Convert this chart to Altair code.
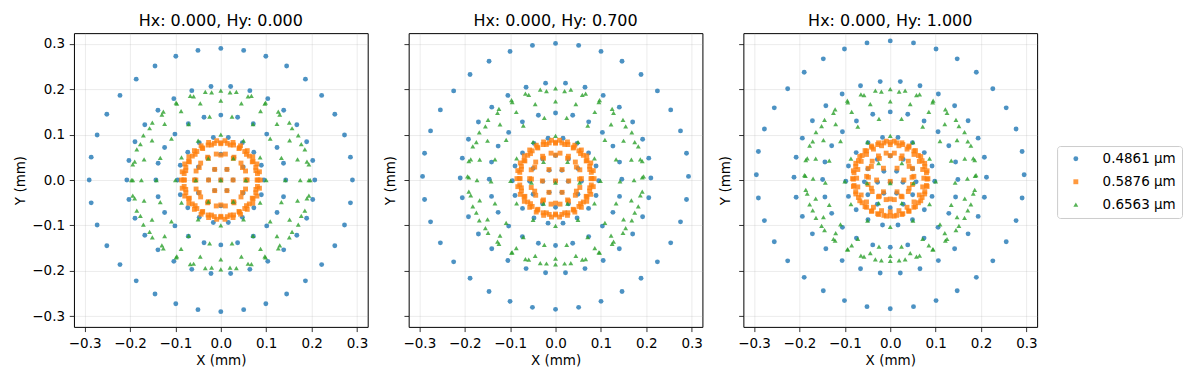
import altair as alt
import numpy as np
import pandas as pd

# ---- labels -------------------------------------------------------------
wavelengths = ["0.4861 µm", "0.5876 µm", "0.6563 µm"]
colors = ["#1f77b4", "#ff7f0e", "#2ca02c"]
shapes = ["circle", "square", "triangle-up"]
marker_sizes = [24, 24, 32]
titles = ["Hx: 0.000, Hy: 0.000", "Hx: 0.000, Hy: 0.700", "Hx: 0.000, Hy: 1.000"]
ticks = [-0.3, -0.2, -0.1, 0.0, 0.1, 0.2, 0.3]

# hexapolar pupil sampling: number of rays on each pupil ring
ring_counts = [6, 12, 18, 24, 30, 36]

# ---- spot ring radii (mm) and ring centre offsets in y (mm)
# field 1 (Hx 0, Hy 0)
f1_blue_r = [0.027, 0.057, 0.095, 0.143, 0.207, 0.290]
f1_blue_dy = [0.0, 0.0, 0.0, 0.0, 0.0, 0.0]
f1_orange_r = [0.027, 0.055, 0.058, 0.080, 0.087, 0.082]
f1_orange_dy = [0.0, 0.0, 0.0, 0.0, 0.0, 0.0]
f1_green_r = [0.055, 0.100, 0.142, 0.175, 0.194, 0.197]
f1_green_dy = [0.0, 0.0, 0.0, 0.0, 0.0, 0.0]
f1_chief_dy = [0.0, 0.0, 0.0]

# field 2 (Hx 0, Hy 0.7)
f2_blue_r = [0.028, 0.057, 0.095, 0.146, 0.210, 0.293]
f2_blue_dy = [-0.003, -0.003, -0.0015, 0.0017, 0.0045, 0.008]
f2_orange_r = [0.029, 0.053, 0.057, 0.078, 0.085, 0.080]
f2_orange_dy = [-0.002, 0.002, 0.003, 0.003, 0.003, 0.003]
f2_green_r = [0.053, 0.099, 0.142, 0.173, 0.191, 0.194]
f2_green_dy = [-0.006, -0.002, -0.003, 0.0, 0.006, 0.008]
f2_chief_dy = [-0.003, -0.002, -0.006]

# field 3 (Hx 0, Hy 1.0)
f3_blue_r = [0.028, 0.057, 0.098, 0.149, 0.212, 0.295]
f3_blue_dy = [-0.005, -0.004, -0.0026, 0.001, 0.006, 0.0115]
f3_orange_r = [0.030, 0.048, 0.052, 0.074, 0.083, 0.081]
f3_orange_dy = [0.0, 0.006, 0.008, 0.004, 0.003, 0.002]
f3_green_r = [0.051, 0.100, 0.143, 0.170, 0.187, 0.189]
f3_green_dy = [-0.007, -0.003, -0.006, 0.003, 0.009, 0.011]
f3_chief_dy = [-0.005, -0.003, -0.007]

fields = [
    ([f1_blue_r, f1_orange_r, f1_green_r], [f1_blue_dy, f1_orange_dy, f1_green_dy], f1_chief_dy),
    ([f2_blue_r, f2_orange_r, f2_green_r], [f2_blue_dy, f2_orange_dy, f2_green_dy], f2_chief_dy),
    ([f3_blue_r, f3_orange_r, f3_green_r], [f3_blue_dy, f3_orange_dy, f3_green_dy], f3_chief_dy),
]

rows = []
for p, (radii, offsets, chief) in enumerate(fields):
    for w, wl in enumerate(wavelengths):
        rows.append({"panel": p, "wl": wl, "x": 0.0, "y": chief[w]})
        for n, r, dy in zip(ring_counts, radii[w], offsets[w]):
            ang = 2 * np.pi * np.arange(n) / n
            for a in ang:
                rows.append({"panel": p, "wl": wl,
                             "x": r * np.cos(a), "y": dy + r * np.sin(a)})
df = pd.DataFrame(rows)

lim = 0.3236
scale = alt.Scale(domain=[-lim, lim], nice=False, zero=False)
legend_kw = dict(title=None, orient="none", legendX=984, legendY=113)


def make_panel(p):
    first = p == 0
    d = df[df.panel == p]
    return (
        alt.Chart(d)
        .mark_point(filled=True, opacity=0.8, strokeWidth=0)
        .encode(
            x=alt.X("x:Q", scale=scale,
                    axis=alt.Axis(values=ticks, format=".1f", title="X (mm)", titlePadding=4)),
            y=alt.Y("y:Q", scale=scale,
                    axis=alt.Axis(values=ticks, format=".1f", title="Y (mm)",
                                  labels=first, titlePadding=4 if first else 6)),
            color=alt.Color("wl:N", scale=alt.Scale(domain=wavelengths, range=colors),
                            legend=alt.Legend(**legend_kw)),
            shape=alt.Shape("wl:N", scale=alt.Scale(domain=wavelengths, range=shapes),
                            legend=alt.Legend(**legend_kw)),
            size=alt.Size("wl:N", scale=alt.Scale(domain=wavelengths, range=marker_sizes),
                          legend=alt.Legend(**legend_kw)),
        )
        .properties(width=294, height=294, title=titles[p])
    )


chart = (
    alt.hconcat(make_panel(0), make_panel(1), make_panel(2))
    .properties(padding={"left": 5, "top": 4, "right": 0, "bottom": 0})
    .configure_view(stroke="black", strokeWidth=1)
    .configure_axis(
        domain=False, tickColor="black", tickSize=4.7, tickWidth=0.8,
        labelFont="DejaVu Sans", labelFontSize=13.5, labelColor="black", labelPadding=4.7,
        titleFont="DejaVu Sans", titleFontSize=13.5, titleFontWeight="normal", titleColor="black",
        gridColor="#b0b0b0", gridOpacity=0.3, gridWidth=0.8,
    )
    .configure_title(font="DejaVu Sans", fontSize=16, fontWeight="normal", offset=4, color="black")
    .configure_concat(spacing=14)
    .configure_legend(
        labelFont="DejaVu Sans", labelFontSize=13.5, labelColor="black",
        padding=6, strokeColor="#cccccc", fillColor="white",
        cornerRadius=3, rowPadding=8, symbolOffset=6, labelOffset=20,
    )
)

chart.save("out.html", embed_options={"renderer": "svg", "actions": False})
